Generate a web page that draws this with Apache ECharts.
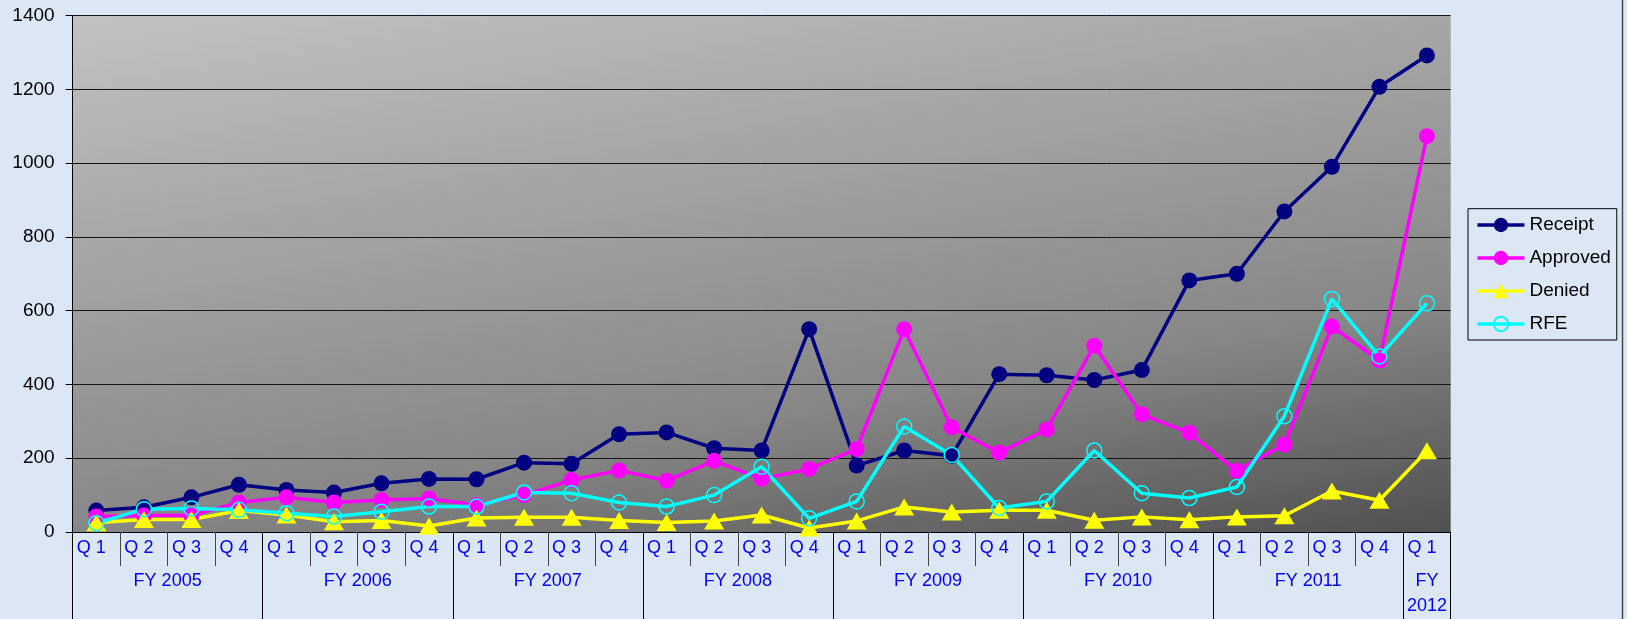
<!DOCTYPE html>
<html>
<head>
<meta charset="utf-8">
<script src="https://cdn.jsdelivr.net/npm/echarts@6/dist/echarts.min.js"></script>
<style>
html,body{margin:0;padding:0;background:#dbe7f5;}
#c{width:1627px;height:619px;}
</style>
</head>
<body>
<div id="c"></div>
<script>
const quarters = ['Q 1','Q 2','Q 3','Q 4','Q 1','Q 2','Q 3','Q 4','Q 1','Q 2','Q 3','Q 4','Q 1','Q 2','Q 3','Q 4','Q 1','Q 2','Q 3','Q 4','Q 1','Q 2','Q 3','Q 4','Q 1','Q 2','Q 3','Q 4','Q 1'];
const fiscalYears = ['FY 2005','FY 2006','FY 2007','FY 2008','FY 2009','FY 2010','FY 2011','FY\n2012'];
const quartersPerYear = [4,4,4,4,4,4,4,1];
const receipt  = [58, 67, 94, 128, 114, 107, 132, 144, 143, 188, 185, 265, 270, 227, 221, 550, 180, 221, 207, 428, 425, 412, 439, 682, 700, 869, 990, 1207, 1292];
const approved = [42, 45, 45, 80, 94, 80, 87, 91, 73, 100, 141, 167, 139, 193, 144, 171, 225, 550, 284, 215, 278, 505, 319, 269, 166, 237, 557, 465, 1073];
const denied   = [25, 34, 34, 58, 46, 28, 31, 16, 38, 40, 40, 31, 26, 30, 46, 11, 30, 68, 54, 59, 59, 32, 41, 33, 41, 44, 111, 86, 220];
const rfe      = [24, 62, 64, 60, 51, 42, 55, 69, 69, 107, 105, 80, 69, 100, 177, 37, 83, 286, 209, 65, 83, 221, 105, 92, 122, 314, 632, 476, 620];
const yMin = 0, yMax = 1400, yStep = 200;

// group boundaries and centers for the fiscal-year row
const yearBounds = [0];
const yearCenters = [];
quartersPerYear.forEach(n => {
  const s = yearBounds[yearBounds.length - 1];
  yearCenters.push(s + n / 2);
  yearBounds.push(s + n);
});

const FONT = "'Liberation Sans', Arial, sans-serif";
const chart = echarts.init(document.getElementById('c'), null, {renderer: 'canvas'});

const plotBg = new echarts.graphic.LinearGradient(72, 15, 196, 744, [
  {offset: 0, color: '#c2c2c2'},
  {offset: 0.31, color: '#a7a7a7'},
  {offset: 0.69, color: '#878787'},
  {offset: 1, color: '#505050'}
], true);

chart.setOption({
  animation: false,
  backgroundColor: '#dbe7f5',
  textStyle: {fontFamily: FONT},
  grid: {
    left: 72.6, right: 176.3, top: 15.6, bottom: 86.7,
    show: true, backgroundColor: plotBg, borderWidth: 0
  },
  legend: {
    orient: 'vertical',
    left: 1468, top: 208.7,
    padding: [6.3, 6, 6, 7.7],
    itemWidth: 47, itemHeight: 18, itemGap: 13,
    borderColor: '#000', borderWidth: 1,
    lineStyle: {width: 3.5},
    textStyle: {color: '#000', fontSize: 19, lineHeight: 20, fontFamily: FONT},
    data: ['Receipt', 'Approved', 'Denied', 'RFE']
  },
  xAxis: [
    {
      type: 'category', data: quarters, boundaryGap: true, position: 'bottom',
      axisLine: {show: true, lineStyle: {color: '#000', width: 1}},
      axisTick: {show: true, interval: 0, length: 34, lineStyle: {color: '#444', width: 1}},
      axisLabel: {
        interval: 0, margin: 7,
        formatter: v => '{q|' + v + '}',
        rich: {q: {color: '#0000ff', fontSize: 18, fontFamily: FONT, lineHeight: 18, padding: [0, 10, 0, 0]}}
      },
      splitLine: {show: false}
    },
    {
      type: 'value', min: 0, max: quarters.length, position: 'bottom',
      axisLine: {show: false},
      splitLine: {show: false},
      axisTick: {show: true, customValues: yearBounds, length: 87, lineStyle: {color: '#000', width: 1}},
      axisLabel: {
        customValues: yearCenters, margin: 37,
        color: '#0000ff', fontSize: 18, lineHeight: 25, fontFamily: FONT,
        formatter: (v) => fiscalYears[yearCenters.indexOf(v)]
      }
    }
  ],
  yAxis: {
    type: 'value', min: yMin, max: yMax, interval: yStep,
    axisLine: {show: true, lineStyle: {color: '#000', width: 1}},
    axisTick: {show: true, length: 7, lineStyle: {color: '#000'}},
    axisLabel: {color: '#000', fontSize: 19, margin: 18, fontFamily: FONT, formatter: v => String(v)},
    splitLine: {show: true, lineStyle: {color: '#151515', width: 1}}
  },
  series: [
    {
      name: 'Receipt', type: 'line', xAxisIndex: 0, data: receipt,
      symbol: 'circle', symbolSize: 16,
      lineStyle: {color: '#000080', width: 3.5},
      itemStyle: {color: '#000080'}
    },
    {
      name: 'Approved', type: 'line', xAxisIndex: 0, data: approved,
      symbol: 'circle', symbolSize: 16,
      lineStyle: {color: '#ff00ff', width: 3.5},
      itemStyle: {color: '#ff00ff'}
    },
    {
      name: 'Denied', type: 'line', xAxisIndex: 0, data: denied,
      symbol: 'triangle', symbolSize: [20, 17],
      lineStyle: {color: '#ffff00', width: 3.5},
      itemStyle: {color: '#ffff00'}
    },
    {
      name: 'RFE', type: 'line', xAxisIndex: 0, data: rfe,
      symbol: 'circle', symbolSize: 15,
      lineStyle: {color: '#00ffff', width: 3.5},
      itemStyle: {color: 'rgba(0,0,0,0)', borderColor: '#00ffff', borderWidth: 1.5}
    }
  ],
  graphic: [
    {type: 'line', shape: {x1: 1622.5, y1: 0, x2: 1622.5, y2: 619}, style: {stroke: '#4a4a4a', lineWidth: 1.5}, silent: true}
  ]
});
</script>
</body>
</html>
